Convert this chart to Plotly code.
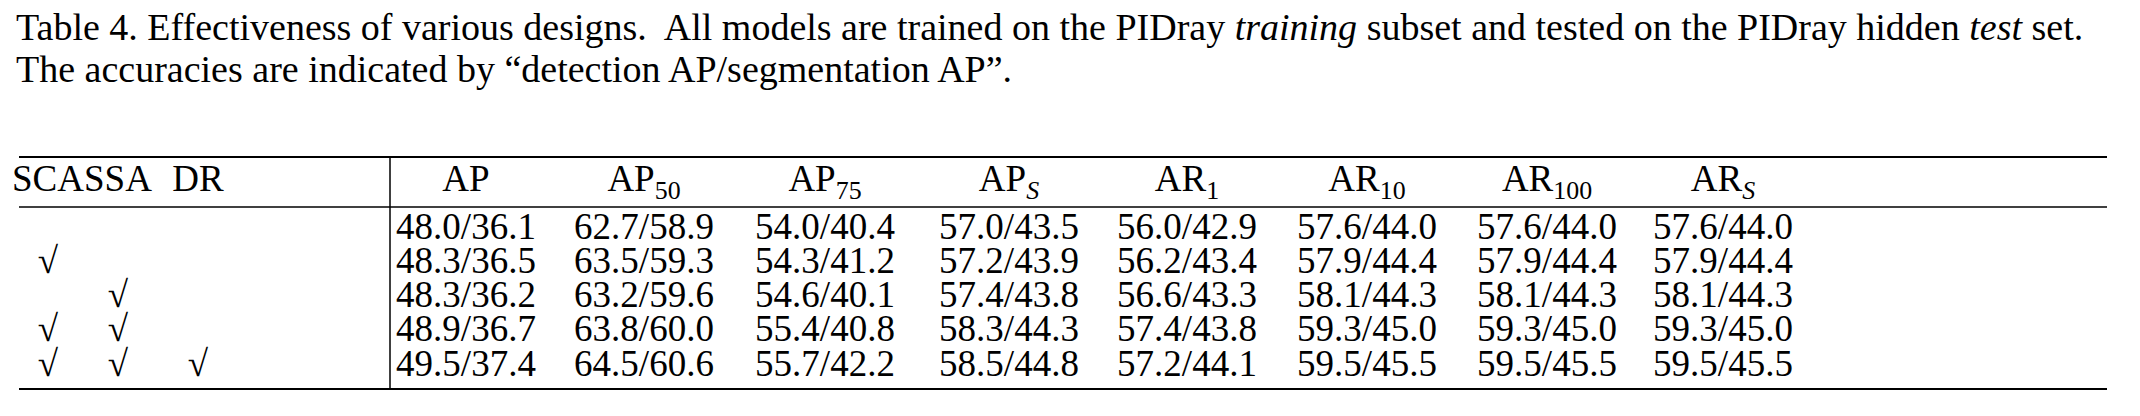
import plotly.graph_objects as go

headers = ["SCA", "SSA", "DR", "AP", "AP<sub>50</sub>", "AP<sub>75</sub>", "AP<sub><i>S</i></sub>",
           "AR<sub>1</sub>", "AR<sub>10</sub>", "AR<sub>100</sub>", "AR<sub><i>S</i></sub>"]
sca = [False, True, False, True, True]
ssa = [False, False, True, True, True]
dr = [False, False, False, False, True]
ap = ["48.0/36.1", "48.3/36.5", "48.3/36.2", "48.9/36.7", "49.5/37.4"]
ap50 = ["62.7/58.9", "63.5/59.3", "63.2/59.6", "63.8/60.0", "64.5/60.6"]
ap75 = ["54.0/40.4", "54.3/41.2", "54.6/40.1", "55.4/40.8", "55.7/42.2"]
aps = ["57.0/43.5", "57.2/43.9", "57.4/43.8", "58.3/44.3", "58.5/44.8"]
ar1 = ["56.0/42.9", "56.2/43.4", "56.6/43.3", "57.4/43.8", "57.2/44.1"]
ar10 = ["57.6/44.0", "57.9/44.4", "58.1/44.3", "59.3/45.0", "59.5/45.5"]
ar100 = ["57.6/44.0", "57.9/44.4", "58.1/44.3", "59.3/45.0", "59.5/45.5"]
ars = ["57.6/44.0", "57.9/44.4", "58.1/44.3", "59.3/45.0", "59.5/45.5"]
caption1 = ("Table 4. Effectiveness of various designs.  All models are trained on the PIDray <i>training</i> "
            "subset and tested on the PIDray hidden <i>test</i> set.")
caption2 = "The accuracies are indicated by “detection AP/segmentation AP”."

col_x = [40, 110, 190, 458, 636, 817, 1001, 1179, 1359, 1539, 1715]
row_y = [222, 256, 290, 324, 359]
header_y = 174
FONT = "Liberation Serif"
SIZE = 37

fig = go.Figure()
fig.add_trace(go.Scatter(x=col_x, y=[header_y] * len(col_x), text=headers, mode="text",
                         textfont=dict(family=FONT, size=SIZE, color="black"),
                         textposition="middle center", hoverinfo="skip"))
checks = [sca, ssa, dr]
for ci, col in enumerate(checks):
    xs = [col_x[ci] for r, v in enumerate(col) if v]
    ys = [row_y[r] for r, v in enumerate(col) if v]
    fig.add_trace(go.Scatter(x=xs, y=ys, text=["√"] * len(xs), mode="text",
                             textfont=dict(family=FONT, size=SIZE, color="black"),
                             textposition="middle center", hoverinfo="skip"))
for ci, col in enumerate([ap, ap50, ap75, aps, ar1, ar10, ar100, ars]):
    fig.add_trace(go.Scatter(x=[col_x[ci + 3]] * len(col), y=row_y, text=col, mode="text",
                             textfont=dict(family=FONT, size=SIZE, color="black"),
                             textposition="middle center", hoverinfo="skip"))
fig.add_trace(go.Scatter(x=[8, 8], y=[22, 64], text=[caption1, caption2], mode="text",
                         textfont=dict(family=FONT, size=38, color="black"),
                         textposition="middle right", hoverinfo="skip"))

line = dict(color="black", width=2)
for y in (149, 381):
    fig.add_shape(type="line", x0=11, x1=2099, y0=y, y1=y, xref="x", yref="y", line=line)
fig.add_shape(type="line", x0=11, x1=2099, y0=199, y1=199, xref="x", yref="y", line=dict(color="black", width=1.5))
fig.add_shape(type="line", x0=382, x1=382, y0=149, y1=381, xref="x", yref="y", line=dict(color="black", width=1.5))

fig.update_layout(width=2140, height=416, margin=dict(l=0, r=0, t=0, b=0),
                  paper_bgcolor="white", plot_bgcolor="white", showlegend=False,
                  xaxis=dict(range=[0, 2140], visible=False, fixedrange=True),
                  yaxis=dict(range=[416, 0], visible=False, fixedrange=True))
fig.write_html("out.html", config={"displayModeBar": False})
